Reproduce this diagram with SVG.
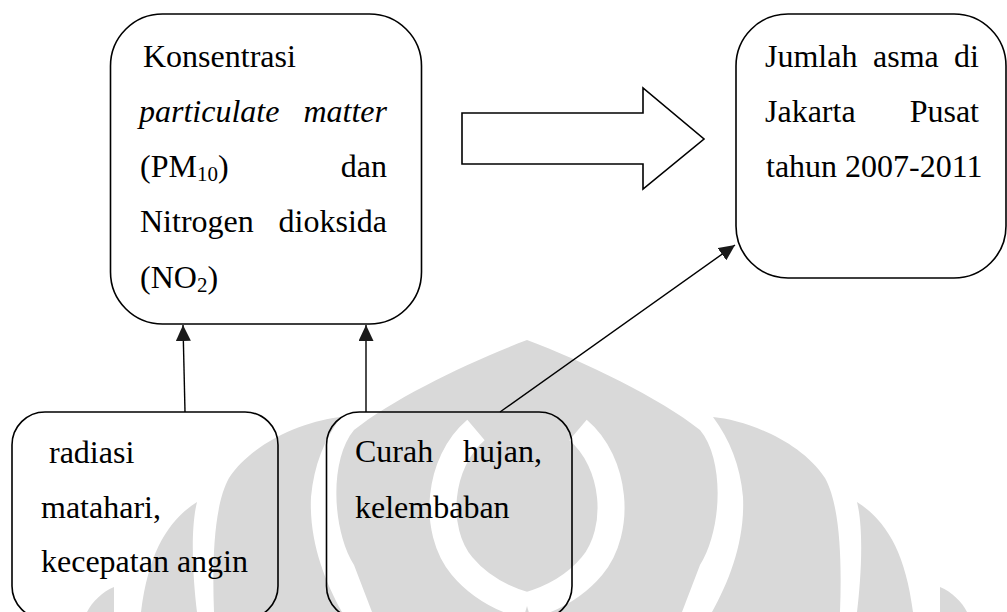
<svg xmlns="http://www.w3.org/2000/svg" width="1007" height="612" viewBox="0 0 1007 612">
  <style>
    .wm { fill: #d9d9d9; stroke: none; }
    .wmw { fill: none; stroke: #ffffff; stroke-width: 27; }
    .box { fill: none; stroke: #000000; stroke-width: 1.6; }
    .t { font-family: "Liberation Serif", "Times New Roman", serif; font-size: 32px; fill: #000000; }
    .it { font-style: italic; }
    .conn { fill: none; stroke: #000000; stroke-width: 1.4; }
  </style>
  <defs>
    <marker id="ah" viewBox="0 0 16 15" refX="16" refY="7.5" markerWidth="16" markerHeight="15" markerUnits="userSpaceOnUse" orient="auto">
      <path d="M0,0 L16,7.5 L0,15 Z" fill="#1a1a1a"/>
    </marker>
    <g id="wmhalf">
      <path class="wm" d="M713,417 C745,420 800,440 825,478 C840,505 842,560 840,612 L712,612 C730,580 745,540 743,497 C740,465 730,440 713,417 Z"/>
      <path class="wm" d="M857,502 C885,520 905,550 913,612 L857,612 C861,580 864,530 857,502 Z"/>
      <path class="wm" d="M940,587 C952,592 962,602 967,612 L940,612 Z"/>
    </g>
  </defs>

  <rect width="1007" height="612" fill="#ffffff"/>

  <g id="watermark">
    <path class="wm" d="M527,340 C585,362 660,398 700,430 C725,460 722,530 700,565 L682,612 L372,612 L354,565 C332,530 329,460 354,430 C394,398 469,362 527,340 Z"/>
    <path class="wmw" d="M578,430 C616,462 622,530 592,566 C572,590 548,600 527,606"/>
    <path class="wmw" d="M476,430 C438,462 432,530 462,566 C482,590 506,600 527,606"/>
    <use href="#wmhalf"/>
    <use href="#wmhalf" transform="matrix(-1 0 0 1 1054 0)"/>
  </g>

  <g id="node-konsentrasi">
    <rect class="box" x="110.5" y="14" width="311" height="310" rx="52" ry="52"/>
    <text class="t" x="143" y="67">Konsentrasi</text>
    <text class="t it" x="139" y="122">particulate</text>
    <text class="t it" x="387" y="122" text-anchor="end">matter</text>
    <text class="t" x="140" y="177">(PM<tspan font-size="21" dy="4">10</tspan><tspan dy="-4">)</tspan></text>
    <text class="t" x="387" y="177" text-anchor="end">dan</text>
    <text class="t" x="140" y="232">Nitrogen</text>
    <text class="t" x="387" y="232" text-anchor="end">dioksida</text>
    <text class="t" x="140" y="288">(NO<tspan font-size="21" dy="4">2</tspan><tspan dy="-4">)</tspan></text>
  </g>

  <g id="node-arrow">
    <path d="M462,113 L643,113 L643,88 L704,139 L643,189 L643,164 L462,164 Z" fill="none" stroke="#000000" stroke-width="1.6" stroke-linejoin="miter"/>
  </g>

  <g id="node-jumlah">
    <rect class="box" x="736" y="14" width="270" height="264" rx="52" ry="52"/>
    <text class="t" x="765" y="67">Jumlah</text>
    <text class="t" x="873" y="67">asma</text>
    <text class="t" x="979" y="67" text-anchor="end">di</text>
    <text class="t" x="765" y="122">Jakarta</text>
    <text class="t" x="979" y="122" text-anchor="end">Pusat</text>
    <text class="t" x="766" y="177">tahun 2007-2011</text>
  </g>

  <g id="node-radiasi">
    <rect class="box" x="12" y="412" width="266" height="207" rx="33" ry="33"/>
    <text class="t" x="49" y="463">radiasi</text>
    <text class="t" x="41" y="518">matahari,</text>
    <text class="t" x="41" y="572">kecepatan angin</text>
  </g>

  <g id="node-curah">
    <rect class="box" x="326.5" y="412" width="245.5" height="207" rx="33" ry="33"/>
    <text class="t" x="355" y="462">Curah</text>
    <text class="t" x="542" y="462" text-anchor="end">hujan,</text>
    <text class="t" x="355" y="518">kelembaban</text>
  </g>

  <g id="connectors">
    <line class="conn" x1="185" y1="412" x2="183" y2="325" marker-end="url(#ah)"/>
    <line class="conn" x1="366" y1="412" x2="366" y2="325" marker-end="url(#ah)"/>
    <line class="conn" x1="500" y1="412" x2="735" y2="245" marker-end="url(#ah)"/>
  </g>
</svg>
